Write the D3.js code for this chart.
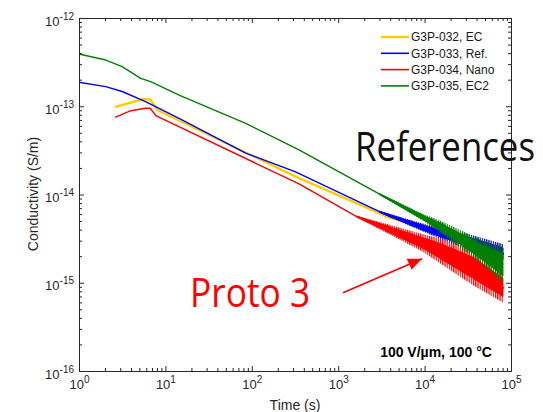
<!DOCTYPE html>
<html>
<head>
<meta charset="utf-8">
<script src="https://cdn.jsdelivr.net/npm/d3@7"></script>
<style>
  body { margin: 0; background: #fff; }
  svg { font-family: "Liberation Sans", Arial, sans-serif; }
</style>
</head>
<body>
<script>
var w = 543; // Width of the page
var h = 412; // Height of the page

// Series names (legend order = drawing order)
var seriesNames = ["G3P-032, EC", "G3P-033, Ref.", "G3P-034, Nano", "G3P-035, EC2"];

// Time (s) and conductivity (S/m)
var timeEC = [2.61, 5.41, 6.64, 8.05, 14.4, 352, 3981, 15070, 36300, 83000];
var sigmaEC = [9.75e-14, 1.2e-13, 1.2e-13, 9.1e-14, 6.9e-14, 1.53e-14, 5.43e-15, 3.77e-15, 2.69e-15, 2.12e-15];

var timeRef = [1, 2.04, 3.16, 5.89, 14.4, 85, 316, 3981, 15070, 30700, 83000];
var sigmaRef = [1.87e-13, 1.67e-13, 1.47e-13, 1.13e-13, 7.3e-14, 2.94e-14, 1.82e-14, 5.6e-15, 3.63e-15, 2.98e-15, 2.12e-15];

var timeNano = [2.61, 3.98, 5.89, 6.64, 7.85, 352, 1637, 3981, 9580, 15070, 36300, 83000];
var sigmaNano = [7.5e-14, 8.9e-14, 9.48e-14, 9.48e-14, 7.76e-14, 1.32e-14, 5.62e-15, 3.98e-15, 2.82e-15, 2.3e-15, 1.48e-15, 8.7e-16];

var timeEC2 = [1, 2.04, 3.16, 5.18, 6.76, 14.4, 85, 352, 3981, 15070, 80700];
var sigmaEC2 = [3.91e-13, 3.34e-13, 2.81e-13, 2.07e-13, 1.9e-13, 1.34e-13, 6.4e-14, 3.2e-14, 8.7e-15, 4.34e-15, 1.6e-15];

// Half-width of the noise scatter around each curve (decades)
var spreadTimeEC = [3000, 9660, 15070, 36300, 80700];
var spreadEC = [0.01, 0.045, 0.06, 0.09, 0.11];

var spreadTimeRef = [3000, 9660, 15070, 36300, 80700];
var spreadRef = [0.01, 0.045, 0.06, 0.09, 0.11];

var spreadTimeNano = [1637, 3981, 9580, 15070, 36300, 80700];
var spreadNano = [0.01, 0.056, 0.1, 0.14, 0.2, 0.17];

var spreadTimeEC2 = [3000, 9660, 15070, 36300, 57100, 80700];
var spreadEC2 = [0.01, 0.04, 0.068, 0.12, 0.16, 0.21];

// Axis ticks
var xMajor = [1, 10, 100, 1000, 10000, 100000];
var xExp = ["0", "1", "2", "3", "4", "5"];
var yMajor = [1e-16, 1e-15, 1e-14, 1e-13, 1e-12];
var yExp = ["-16", "-15", "-14", "-13", "-12"];

// Styles
var colors = ["#ffcc00", "#0000ff", "#ff0000", "#008000"];
var widths = [2.4, 1.4, 1.4, 1.4];

// Bundle series for drawing
var series = [
    { t: timeEC, s: sigmaEC, bt: spreadTimeEC, sp: spreadEC },
    { t: timeRef, s: sigmaRef, bt: spreadTimeRef, sp: spreadRef },
    { t: timeNano, s: sigmaNano, bt: spreadTimeNano, sp: spreadNano },
    { t: timeEC2, s: sigmaEC2, bt: spreadTimeEC2, sp: spreadEC2 }
];

// Scales
var x = d3.scaleLog().domain([1, 1e5]).range([79, 511]);
var y = d3.scaleLog().domain([1e-16, 1e-12]).range([371, 18]);

function minorTicks(lo, hi) {
    var out = [];
    for (var d = lo; d < hi; d *= 10) {
        for (var k = 2; k <= 9; k++) out.push(d * k);
    }
    return out;
}
var xMinor = minorTicks(1, 1e5);
var yMinor = minorTicks(1e-16, 1e-12);

var svg = d3.select("body")
    .append("svg")
    .attr("width", w)
    .attr("height", h);

var defs = svg.append("defs");

// Vertical hatch per colour, gives the fringe of the scatter a spiky look
colors.forEach(function(c, i) {
    defs.append("pattern")
        .attr("id", "hatch" + i)
        .attr("patternUnits", "userSpaceOnUse")
        .attr("width", 2.2)
        .attr("height", 8)
        .append("rect")
        .attr("width", 1.2)
        .attr("height", 8)
        .attr("fill", c);
});

// Data: lines and noise bands
var line = d3.line()
    .x(function(d) { return x(d[0]); })
    .y(function(d) { return y(d[1]); });

var area = d3.area()
    .x(function(d) { return x(d[0]); })
    .y0(function(d) { return y(d[1]); })
    .y1(function(d) { return y(d[2]); });

var plot = svg.append("g");
series.forEach(function(sr, i) {
    var pts = sr.t.map(function(t, j) { return [t, sr.s[j]]; });
    plot.append("path")
        .attr("d", line(pts))
        .attr("fill", "none")
        .attr("stroke", colors[i])
        .attr("stroke-width", widths[i])
        .attr("stroke-linejoin", "round");

    // centre of the band follows the curve (log-log interpolation)
    var centre = d3.scaleLinear()
        .domain(sr.t.map(Math.log10))
        .range(sr.s.map(Math.log10));
    function band(k) {
        return sr.bt.map(function(t, j) {
            var m = centre(Math.log10(t)), r = sr.sp[j] * k;
            return [t, Math.pow(10, m - r), Math.pow(10, m + r)];
        });
    }
    // outer fringe of the scatter
    plot.append("path")
        .attr("d", area(band(1)))
        .attr("fill", "url(#hatch" + i + ")")
        .attr("stroke", "none");
    // dense core of the scatter
    plot.append("path")
        .attr("d", area(band(0.6)))
        .attr("fill", colors[i])
        .attr("stroke", colors[i])
        .attr("stroke-width", 1);
});

// Axes (ticks pointing inward on all four sides)
var axisColor = "#262626";
function styleAxis(g) {
    g.select(".domain").attr("stroke", axisColor);
    g.selectAll(".tick line").attr("stroke", axisColor);
}

svg.append("g").attr("transform", "translate(0,371)")
    .call(d3.axisBottom(x).tickValues(xMinor).tickSizeInner(-3).tickSizeOuter(0).tickFormat(""))
    .call(styleAxis);
svg.append("g").attr("transform", "translate(0,18)")
    .call(d3.axisTop(x).tickValues(xMinor).tickSizeInner(-3).tickSizeOuter(0).tickFormat(""))
    .call(styleAxis);
svg.append("g").attr("transform", "translate(0,18)")
    .call(d3.axisTop(x).tickValues(xMajor).tickSizeInner(-5).tickSizeOuter(0).tickFormat(""))
    .call(styleAxis);
svg.append("g").attr("transform", "translate(79,0)")
    .call(d3.axisLeft(y).tickValues(yMinor).tickSizeInner(-3).tickSizeOuter(0).tickFormat(""))
    .call(styleAxis);
svg.append("g").attr("transform", "translate(511,0)")
    .call(d3.axisRight(y).tickValues(yMinor).tickSizeInner(-3).tickSizeOuter(0).tickFormat(""))
    .call(styleAxis);
svg.append("g").attr("transform", "translate(511,0)")
    .call(d3.axisRight(y).tickValues(yMajor).tickSizeInner(-5).tickSizeOuter(0).tickFormat(""))
    .call(styleAxis);

// Labelled major axes with 10^n labels
var xAxisG = svg.append("g").attr("transform", "translate(0,371)")
    .call(d3.axisBottom(x).tickValues(xMajor).tickSizeInner(-5).tickSizeOuter(0).tickPadding(9).tickFormat(""))
    .call(styleAxis);
xAxisG.selectAll(".tick text").each(function(d, i) {
    var t = d3.select(this).attr("fill", axisColor).style("font-size", "13px")
        .attr("font-family", "Liberation Sans, Arial, sans-serif");
    t.append("tspan").text("10");
    t.append("tspan").text(xExp[i]).attr("dy", "-6").style("font-size", "10px");
});

var yAxisG = svg.append("g").attr("transform", "translate(79,0)")
    .call(d3.axisLeft(y).tickValues(yMajor).tickSizeInner(-5).tickSizeOuter(0).tickPadding(5).tickFormat(""))
    .call(styleAxis);
yAxisG.selectAll(".tick text").each(function(d, i) {
    var t = d3.select(this).attr("fill", axisColor).attr("dy", "0.55em").style("font-size", "13px")
        .attr("font-family", "Liberation Sans, Arial, sans-serif");
    t.append("tspan").text("10");
    t.append("tspan").text(yExp[i]).attr("dy", "-6").style("font-size", "10px");
});

// Axis titles
svg.append("text")
    .attr("x", 295)
    .attr("y", 410)
    .attr("text-anchor", "middle")
    .attr("fill", axisColor)
    .style("font-size", "14px")
    .text("Time (s)");

svg.append("text")
    .attr("transform", "translate(38,194) rotate(-90)")
    .attr("text-anchor", "middle")
    .attr("fill", axisColor)
    .style("font-size", "14px")
    .text("Conductivity (S/m)");

// Legend
var legend = svg.append("g").attr("transform", "translate(381,37)");
seriesNames.forEach(function(name, i) {
    var row = legend.append("g").attr("transform", "translate(0," + (i * 16.3) + ")");
    row.append("line")
        .attr("x1", 0).attr("x2", 28)
        .attr("stroke", colors[i])
        .attr("stroke-width", i === 0 ? 2.4 : 1.6);
    row.append("text")
        .attr("x", 30)
        .attr("dy", "0.36em")
        .attr("fill", "#1a1a1a")
        .style("font-size", "12px")
        .text(name);
});

// Condition label
svg.append("text")
    .attr("x", x(13550))
    .attr("y", y(1.45e-16))
    .attr("text-anchor", "middle")
    .attr("fill", "#000")
    .style("font-size", "14px")
    .style("font-weight", "bold")
    .text("100 V/\u00b5m, 100 \u00b0C");

// Annotations
svg.append("text")
    .attr("x", x(1563))
    .attr("y", y(2.4e-14))
    .attr("fill", "#111")
    .attr("font-family", "Open Sans, Noto Sans, sans-serif")
    .style("font-size", "40px")
    .attr("textLength", 180)
    .attr("lengthAdjust", "spacingAndGlyphs")
    .text("References");

svg.append("text")
    .attr("x", x(19.3))
    .attr("y", y(5.33e-16))
    .attr("fill", "#ff0000")
    .attr("font-family", "Open Sans, Noto Sans, sans-serif")
    .style("font-size", "40px")
    .attr("textLength", 120)
    .attr("lengthAdjust", "spacingAndGlyphs")
    .text("Proto 3");

defs.append("marker")
    .attr("id", "arrow")
    .attr("markerUnits", "userSpaceOnUse")
    .attr("markerWidth", 16)
    .attr("markerHeight", 14)
    .attr("refX", 14)
    .attr("refY", 7)
    .attr("orient", "auto")
    .append("path")
    .attr("d", "M0,1 L14,7 L0,13 Z")
    .attr("fill", "#ff0000");

svg.append("line")
    .attr("x1", x(1137)).attr("y1", y(7.7e-16))
    .attr("x2", x(9330)).attr("y2", y(1.87e-15))
    .attr("stroke", "#ff0000")
    .attr("stroke-width", 1.6)
    .attr("marker-end", "url(#arrow)");
</script>
</body>
</html>
